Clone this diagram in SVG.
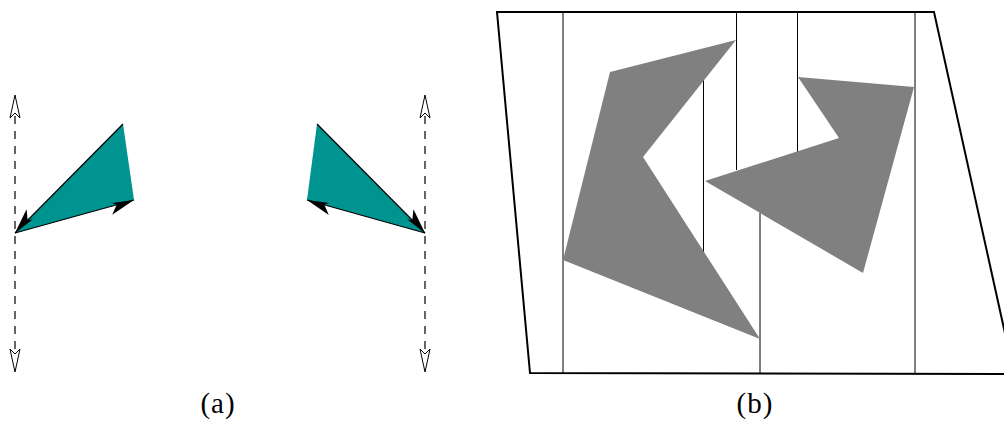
<svg xmlns="http://www.w3.org/2000/svg" width="1004" height="422" viewBox="0 0 1004 422">
<style>
.dash{stroke:#000;stroke-width:1.2;stroke-dasharray:8 7;fill:none}
.open{fill:#fff;stroke:#000;stroke-width:1}
.edge{stroke:#000;stroke-width:1.2;fill:none}
.ea{marker-end:url(#stealthA)}
.eb{marker-end:url(#stealthB)}
.teal{fill:#009490;stroke:none}
.gray{fill:#808080;stroke:none}
.thin{stroke:#000;stroke-width:1;fill:none}
.frame{stroke:#000;stroke-width:2;fill:none;stroke-linejoin:miter}
.lbl{font-family:"Liberation Serif","DejaVu Serif",serif;font-size:29px;letter-spacing:1px;fill:#000;text-anchor:middle}
</style>
<defs>
<marker id="stealthA" markerUnits="userSpaceOnUse" markerWidth="32" markerHeight="22" viewBox="-28 -11 30 22" refX="0" refY="0" orient="auto">
<path d="M0,0 L-22,-3 L-18,0 L-25,8.5 Z" fill="#000"/>
</marker>
<marker id="stealthB" markerUnits="userSpaceOnUse" markerWidth="32" markerHeight="22" viewBox="-28 -11 30 22" refX="0" refY="0" orient="auto">
<path d="M0,0 L-22,3 L-18,0 L-25,-8.5 Z" fill="#000"/>
</marker>
</defs>
<g id="panel-a">
<g id="left-axis">
<line class="dash" x1="15" y1="116" x2="15" y2="352"/>
<path class="open" d="M15,95 L20,118 L15,113 L10,118 Z"/>
<path class="open" d="M15,372 L20,349 L15,354 L10,349 Z"/>
</g>
<g id="right-axis">
<line class="dash" x1="425" y1="116" x2="425" y2="352"/>
<path class="open" d="M425,95 L430,118 L425,113 L420,118 Z"/>
<path class="open" d="M425,372 L430,349 L425,354 L420,349 Z"/>
</g>
<g id="left-triangle">
<polygon class="teal" points="123,124 134,200 15,233"/>
</g>
<g id="right-triangle">
<polygon class="teal" points="317,124 307,200 425,233"/>
</g>
<g id="connectors">
<line class="edge ea" x1="123" y1="124" x2="15" y2="233"/>
<line class="edge ea" x1="15" y1="233" x2="134" y2="200"/>
<line class="edge eb" x1="317" y1="124" x2="425" y2="233"/>
<line class="edge eb" x1="425" y1="233" x2="307" y2="200"/>
</g>
<text class="lbl" x="218" y="413">(a)</text>
</g>
<g id="panel-b">
<polyline class="frame" points="1014,374 530,373 497,12 934,12 1014,374"/>
<g id="splits">
<line class="thin" x1="563" y1="12" x2="563" y2="373"/>
<line class="thin" x1="703.5" y1="80" x2="703.5" y2="253"/>
<line class="thin" x1="736.5" y1="12" x2="736.5" y2="170"/>
<line class="thin" x1="760" y1="213" x2="760" y2="373"/>
<line class="thin" x1="797.5" y1="12" x2="797.5" y2="152"/>
<line class="thin" x1="915" y1="12" x2="915" y2="373"/>
</g>
<g id="poly-left">
<polygon class="gray" points="610,72 736,40 643,157 760,339 563,260"/>
</g>
<g id="poly-right">
<polygon class="gray" points="798,77 914,87 863,273 705,181 839,138"/>
</g>
<text class="lbl" x="755" y="413">(b)</text>
</g>
</svg>
